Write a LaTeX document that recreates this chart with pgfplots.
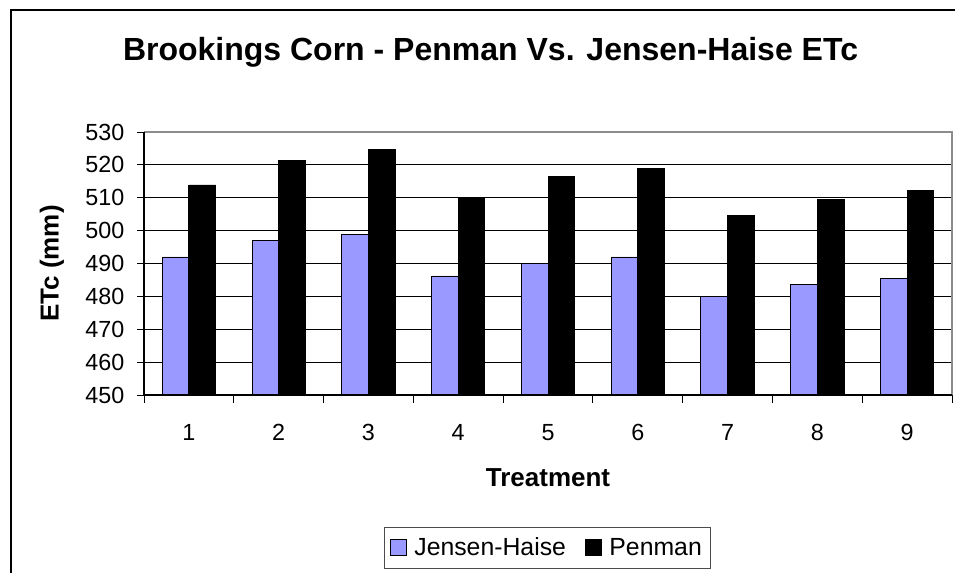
\documentclass[border=0pt]{standalone}
\usepackage{pgfplots}
\pgfplotsset{compat=1.18}
\usepackage{fontspec}
\setmainfont{Liberation Sans}
\definecolor{jh}{HTML}{9999FF}
\begin{document}
\begin{tikzpicture}
\useasboundingbox (0pt,0pt) rectangle (716.25pt,429.75pt);
\fill[white] (0pt,0pt) rectangle (716.25pt,429.75pt);
\draw[black,line width=0.8pt] (8.25pt,-8pt) -- (8.25pt,422.25pt) -- (740pt,422.25pt);
\node[font=\bfseries\fontsize{24}{28}\selectfont] at (367.9pt,390.75pt) {Brookings Corn - Penman Vs. Jensen-Haise ETc};
\begin{axis}[
  at={(108pt,133.5pt)}, anchor=south west,
  scale only axis, width=606pt, height=197.25pt,
  ybar=0pt, bar width=20pt,
  xmin=0.5, xmax=9.5, ymin=450, ymax=530,
  ytick={450,460,...,530},
  xtick={1,...,9},
  ymajorgrids, grid style={black,line width=0.6pt},
  axis line style={draw=none},
  major tick length=5.25pt,
  ytick pos=left,
  ytick style={black,line width=0.6pt},
  xtick style={draw=none},
  tick align=outside,
  tick label style={font=\fontsize{17.5}{20}\selectfont},
  /pgf/number format/assume math mode=true,
  /pgf/number format/1000 sep={},
  xticklabel style={yshift=-13pt},
  yticklabel style={xshift=-6pt},
  xlabel={Treatment}, ylabel={ETc (mm)},
  label style={font=\bfseries\fontsize{19.5}{22}\selectfont},
  xlabel style={at={(axis description cs:0.5,-0.3156)},anchor=center},
  ylabel style={at={(axis description cs:-0.1139,0.5)},anchor=center},
  legend style={at={(0.4988,-0.502)},anchor=north, legend columns=-1, draw=black!70,
    font=\fontsize{18.6}{21}\selectfont, inner xsep=4pt, inner ysep=6pt,
    /tikz/every odd column/.append style={column sep=4pt},
    /tikz/every even column/.append style={column sep=12pt}},
  legend image code/.code={\draw[#1,draw=black,line width=0.6pt] (0pt,-5.5pt) rectangle (12pt,6.5pt);},
  clip=false,
]
\addplot[fill=jh,draw=black,line width=0.6pt] coordinates {(1,492) (2,497) (3,498.7) (4,486.2) (5,490) (6,492) (7,480) (8,483.5) (9,485.4)};
\addplot[fill=black,draw=black,line width=0.6pt] coordinates {(1,513.9) (2,521.3) (3,524.8) (4,510.2) (5,516.5) (6,518.9) (7,504.7) (8,509.6) (9,512.2)};
\legend{Jensen-Haise,Penman}
\draw[black!45,line width=0.9pt] (rel axis cs:0,1) -- (rel axis cs:1,1) -- (rel axis cs:1,0);
\draw[black,line width=0.8pt] (rel axis cs:0,1) -- (rel axis cs:0,0) -- (rel axis cs:1,0);
\pgfplotsinvokeforeach{0.5,1.5,2.5,3.5,4.5,5.5,6.5,7.5,8.5,9.5}{\draw[black,line width=0.6pt] (axis cs:#1,450) -- ++(0pt,-6pt);}
\end{axis}
\end{tikzpicture}
\end{document}
